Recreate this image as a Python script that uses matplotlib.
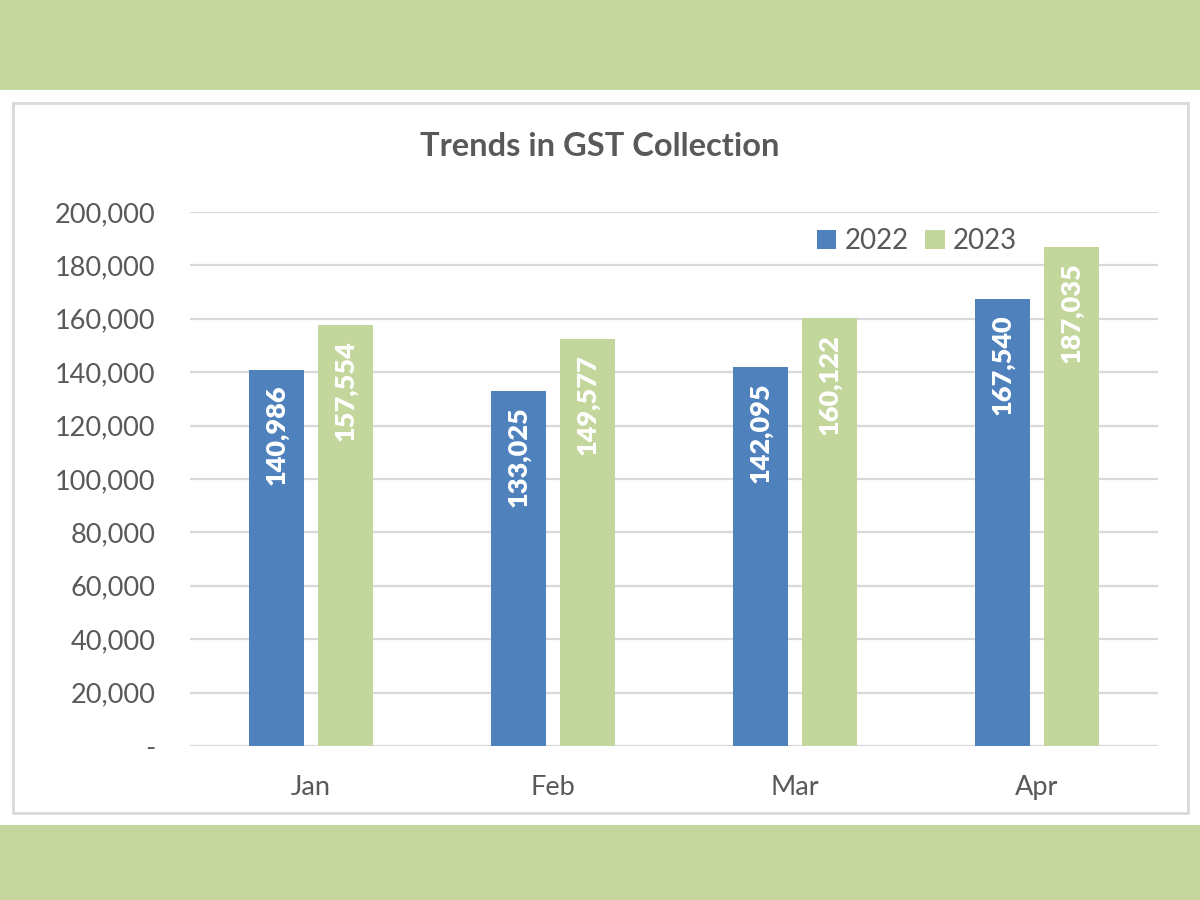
import matplotlib.pyplot as plt
from matplotlib.patches import Rectangle
from matplotlib.ticker import FuncFormatter

# data
months = ["Jan", "Feb", "Mar", "Apr"]
years = ["2022", "2023"]
gst_2022 = [140986, 133025, 142095, 167540]
gst_2023 = [157554, 152400, 160122, 187035]   # Feb bar drawn higher than its label in source
labels_2022 = ["140,986", "133,025", "142,095", "167,540"]
labels_2023 = ["157,554", "149,577", "160,122", "187,035"]

BLUE = "#4F81BD"
GREEN = "#C3D69B"
BAND = "#C5D69E"
TEXT = "#595959"
GRID = "#D9D9D9"

plt.rcParams["font.family"] = ["Lato", "DejaVu Sans"]

fig = plt.figure(figsize=(12, 9), dpi=100)

# green bands top and bottom, framed white panel
fig.patches.append(Rectangle((0, 1 - 90 / 900), 1, 90 / 900, transform=fig.transFigure,
                             facecolor=BAND, edgecolor="none", zorder=-2))
fig.patches.append(Rectangle((0, 0), 1, 75 / 900, transform=fig.transFigure,
                             facecolor=BAND, edgecolor="none", zorder=-2))
fig.patches.append(Rectangle((13 / 1200, 1 - 813 / 900), 1175 / 1200, 710 / 900,
                             transform=fig.transFigure, facecolor="white",
                             edgecolor=GRID, linewidth=2, zorder=-2))

ax = fig.add_axes([190 / 1200, 1 - 746 / 900, 968 / 1200, 534 / 900])
ax.set_facecolor("none")

x = range(len(months))
w = 0.227
off = 0.143
b1 = ax.bar([i - off for i in x], gst_2022, width=w, color=BLUE, label=years[0], zorder=3)
b2 = ax.bar([i + off for i in x], gst_2023, width=w, color=GREEN, label=years[1], zorder=3)

for bars, labs in ((b1, labels_2022), (b2, labels_2023)):
    for bar, lab in zip(bars, labs):
        ax.annotate(lab, (bar.get_x() + bar.get_width() / 2, bar.get_height()),
                    xytext=(0, -11), textcoords="offset points",
                    ha="center", va="top", rotation=90, color="white",
                    fontsize=19.5, fontweight="heavy", zorder=4)

ax.set_xlim(-0.5, 3.5)
ax.set_ylim(0, 200000)
ax.set_yticks(range(0, 200001, 20000))
ax.yaxis.set_major_formatter(FuncFormatter(lambda v, p: "-" if v == 0 else f"{int(v):,}"))
ax.set_xticks(list(x))
ax.set_xticklabels(months)
ax.grid(axis="y", color=GRID, linewidth=1.6, zorder=0)
ax.set_axisbelow(True)
for s in ax.spines.values():
    s.set_visible(False)
ax.tick_params(axis="both", length=0, labelsize=19.5, labelcolor=TEXT)
ax.tick_params(axis="y", pad=25)
ax.tick_params(axis="x", pad=21)

fig.text(0.5, 1 - 147 / 900, "Trends in GST Collection", ha="center", va="center",
         fontsize=23.5, fontweight="bold", color=TEXT)

ax.legend(loc="upper right", bbox_to_anchor=(0.866, 0.99), ncol=2, frameon=False,
          fontsize=20, labelcolor=TEXT, handlelength=0.7, handleheight=0.7,
          handletextpad=0.3, columnspacing=0.6, borderaxespad=0)

fig.savefig("out.png", dpi=100)
